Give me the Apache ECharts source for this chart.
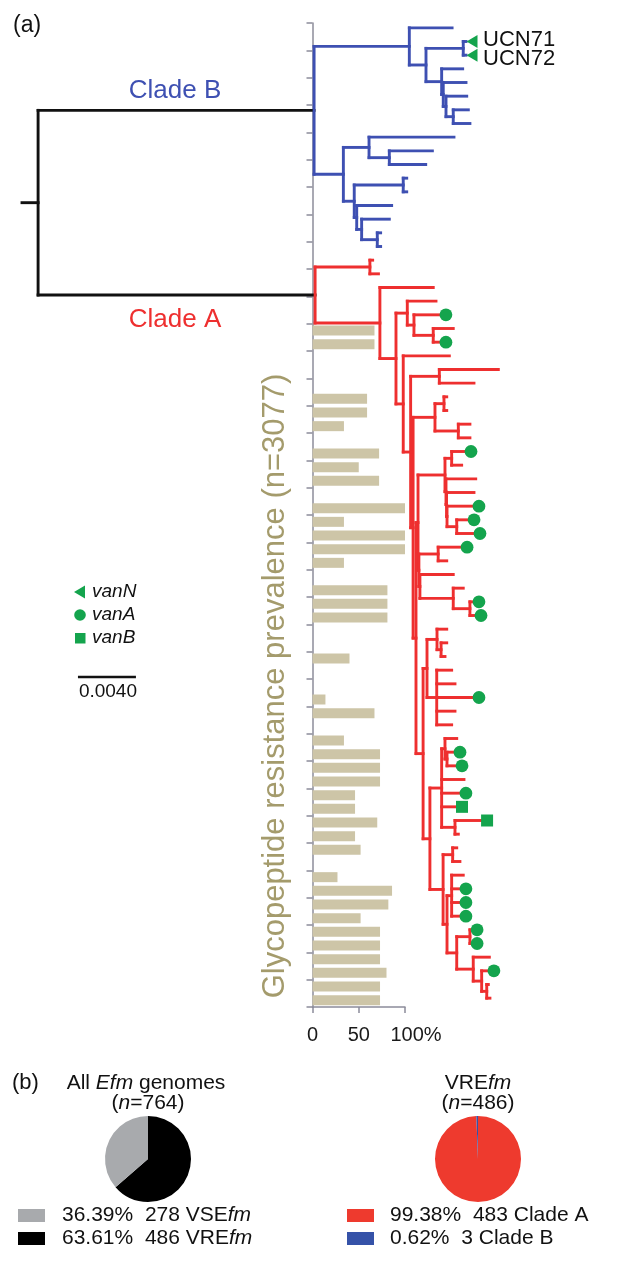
<!DOCTYPE html>
<html><head><meta charset="utf-8"><title>Efm phylogeny</title>
<script src="https://cdn.jsdelivr.net/npm/echarts@6/dist/echarts.min.js"></script>
<style>html,body{margin:0;padding:0;background:#fff;}#chart{width:619px;height:1276px;}</style>
</head><body><div id="chart"></div>
<script>
const FONT = 'Liberation Sans, Arial, Helvetica, sans-serif';

// ---------------- DATA ----------------
// Tree depths in units of 0.001 substitutions/site from the root.
// Leaf: [depth, marker?, label?]  Internal: [depth, [children...]]
// Markers: 'N' = vanN, 'A' = vanA, 'B' = vanB
const rootDepth = 1.11;
const cladeBTree = [20.15, [
  [26.72, [
    [29.67],
    [27.87, [
      [30.44, [[30.63, 'N', 'UCN71'], [30.63, 'N', 'UCN72']]],
      [28.95, [
        [30.40],
        [29.06, [
          [30.63],
          [29.25, [
            [30.68],
            [29.75, [[30.79], [30.90]]]
          ]]
        ]]
      ]]
    ]]
  ]],
  [22.17, [
    [23.94, [
      [29.80],
      [25.34, [[28.31], [27.85]]]
    ]],
    [22.92, [
      [26.30, [[26.54], [26.54]]],
      [23.09, [
        [25.50],
        [23.43, [
          [25.34],
          [24.51, [[24.74], [24.74]]]
        ]]
      ]]
    ]]
  ]]
]];

const cladeATree = [20.22, [
  [24.00, [[24.19], [24.59]]],
  [24.69, [
    [28.37],
    [25.80, [
      [26.58, [
        [28.56],
        [27.04, [
          [28.83, 'A'],
          [28.37, [[29.75], [28.83, 'A']]]
        ]]
      ]],
      [26.30, [
        [29.48],
        [26.81, [
          [28.79, [[32.86], [31.18]]],
          [26.98, [
            [28.49, [
              [29.11, [[29.30], [29.30]]],
              [30.10, [[30.90], [30.90]]]
            ]],
            [27.18, [
              [27.32, [
                [29.18, [
                  [29.64, [[30.56, 'A'], [30.33]]],
                  [29.25, [
                    [31.30],
                    [29.29, [
                      [31.18],
                      [29.32, [
                        [31.11, 'A'],
                        [29.99, [[30.77, 'A'], [31.18, 'A']]]
                      ]]
                    ]]
                  ]]
                ]],
                [27.38, [
                  [28.71, [[30.29, 'A'], [29.30]]],
                  [27.45, [
                    [29.75],
                    [29.75, [
                      [30.44],
                      [30.90, [[31.11, 'A'], [31.25, 'A']]]
                    ]]
                  ]]
                ]]
              ]],
              [27.67, [
                [27.94, [
                  [28.63, [[29.30], [28.91, [[29.30], [29.18]]]]],
                  [28.61, [[29.64], [29.87], [31.11, 'A'], [29.87], [29.64]]]
                ]],
                [28.14, [
                  [28.95, [
                    [29.18, [[29.99], [29.32, [[29.80, 'A'], [29.94, 'A']]]]],
                    [30.49],
                    [30.21, 'A'],
                    [29.94, 'B'],
                    [29.87, [[31.67, 'B'], [30.10]]]
                  ]],
                  [29.05, [
                    [29.71, [[29.99], [30.21]]],
                    [29.32, [
                      [29.64, [[30.44], [30.21, 'A'], [30.21, 'A'], [30.21, 'A']]],
                      [29.99, [
                        [30.90, [[30.98, 'A'], [30.98, 'A']]],
                        [31.13, [
                          [32.24],
                          [31.71, [
                            [32.14, 'A'],
                            [32.06, [[32.17], [32.28]]]
                          ]]
                        ]]
                      ]]
                    ]]
                  ]]
                ]]
              ]]
            ]]
          ]]
        ]]
      ]]
    ]]
  ]]
]];

const scaleBarLength = 4;      // 0.0040 substitutions/site
const scaleBarAt = [3.86, 47.5];

// Glycopeptide resistance prevalence (%) per tip row (null = no bar)
const prevalence = [
  null, null, null, null, null, null, null, null, null, null, null,
  null, null, null, null, null, null, null, null, null, null, null,
  67, 67, null, null, null, 59, 59, 34, null, 72, 50, 72, null,
  100, 34, 100, 100, 34, null, 81, 81, 81, null, null, 40, null, null,
  14, 67, null, 34, 73, 73, 73, 46, 46, 70, 46, 52, null,
  27, 86, 82, 52, 73, 73, 73, 80, 73, 73
];
const prevalenceTicks = [0, 50, 100];

const allGenomes = [
  { name: 'VREfm', value: 486, pct: '63.61%' },
  { name: 'VSEfm', value: 278, pct: '36.39%' }
];
const vreGenomes = [
  { name: 'Clade A', value: 483, pct: '99.38%' },
  { name: 'Clade B', value: 3, pct: '0.62%' }
];

// ---------------- TREE LAYOUT ----------------
const segs = { B: [], A: [], K: [] };
const marks = [];
let leafIdx = 0;
function lay(node, parentDepth, key) {
  const d = node[0];
  let y;
  if (Array.isArray(node[1])) {
    const ys = node[1].map(ch => lay(ch, d, key));
    y = (ys[0] + ys[ys.length - 1]) / 2;
    segs[key].push([d, ys[0], d, ys[ys.length - 1]]);
  } else {
    y = leafIdx++;
    if (node[1]) marks.push([d, y, node[1], node[2] || '']);
  }
  if (parentDepth != null) segs[key].push([parentDepth, y, d, y]);
  return y;
}
const yB = lay(cladeBTree, null, 'B');
const yA = lay(cladeATree, null, 'A');
const yRoot = (yB + yA) / 2;
segs.K.push([rootDepth, yB, cladeBTree[0], yB]);
segs.K.push([rootDepth, yA, cladeATree[0], yA]);
segs.K.push([rootDepth, yB, rootDepth, yA]);
segs.K.push([0, yRoot, rootDepth, yRoot]);

const rowIds = prevalence.map((_, i) => 'tip' + i);

const colors = { B: '#3e50b2', A: '#ee2f2f', K: '#111111' };
const green = '#14a44d';

function segSeries(key) {
  return {
    type: 'custom', xAxisIndex: 0, yAxisIndex: 0, silent: true, z: 5,
    data: segs[key],
    renderItem: (params, api) => {
      const p1 = api.coord([api.value(0), api.value(1)]);
      const p2 = api.coord([api.value(2), api.value(3)]);
      return { type: 'line', shape: { x1: p1[0], y1: p1[1], x2: p2[0], y2: p2[1] },
        style: { stroke: colors[key], lineWidth: 2.9, lineCap: 'square' } };
    }
  };
}

const option = {
  animation: false,
  backgroundColor: '#ffffff',
  grid: [
    { left: 22, top: 21, width: 579.83, height: 984 },
    { left: 312.5, top: 23, width: 92.5, height: 984 }
  ],
  xAxis: [
    { type: 'value', gridIndex: 0, min: 0, max: 40, show: false },
    { type: 'value', gridIndex: 1, min: prevalenceTicks[0], max: prevalenceTicks[2], interval: prevalenceTicks[1],
      axisLine: { show: true, lineStyle: { color: '#8c8c9a', width: 1.5 } },
      axisTick: { show: true, length: 6, lineStyle: { color: '#8c8c9a', width: 1.5 } },
      splitLine: { show: false },
      axisLabel: { fontSize: 20, color: '#1a1a1a', fontFamily: FONT, margin: 18,
        formatter: v => (v === 100 ? '{p|100%}' : String(v)),
        rich: { p: { fontSize: 20, color: '#1a1a1a', fontFamily: FONT, padding: [0, 0, 0, 22] } } } }
  ],
  yAxis: [
    { type: 'value', gridIndex: 0, min: -0.5, max: 71.5, inverse: true, show: false },
    { type: 'category', gridIndex: 1, data: rowIds, inverse: true,
      axisLine: { show: true, lineStyle: { color: '#8c8c9a', width: 1.5 } },
      axisTick: { show: true, length: 6, alignWithLabel: false, lineStyle: { color: '#8c8c9a', width: 1.5 } },
      axisLabel: { show: false }, splitLine: { show: false } }
  ],
  series: [
    { type: 'bar', xAxisIndex: 1, yAxisIndex: 1, data: prevalence, barWidth: 10,
      itemStyle: { color: '#cdc5a7' }, silent: true, z: 2 },
    segSeries('K'), segSeries('B'), segSeries('A'),
    { type: 'custom', xAxisIndex: 0, yAxisIndex: 0, silent: true, z: 6,
      data: marks.map(m => [m[0], m[1]]),
      renderItem: (params, api) => {
        const m = marks[params.dataIndex];
        const p = api.coord([api.value(0), api.value(1)]);
        const ch = [];
        if (m[2] === 'A') ch.push({ type: 'circle', shape: { cx: p[0] + 6, cy: p[1], r: 6.4 }, style: { fill: green } });
        else if (m[2] === 'B') ch.push({ type: 'rect', shape: { x: p[0], y: p[1] - 6, width: 12, height: 12 }, style: { fill: green } });
        else if (m[2] === 'N') ch.push({ type: 'polygon', shape: { points: [[p[0] + 0.5, p[1]], [p[0] + 11.5, p[1] - 6.5], [p[0] + 11.5, p[1] + 6.5]] }, style: { fill: green } });
        if (m[3]) {
          const first = !marks.slice(0, params.dataIndex).some(o => o[3]);
          ch.push({ type: 'text', x: p[0] + 17, y: p[1] + (first ? -1.5 : 3.5),
            style: { text: m[3], font: '22px ' + FONT, fill: '#111', align: 'left', verticalAlign: 'middle' } });
        }
        return { type: 'group', children: ch };
      }
    },
    { type: 'custom', xAxisIndex: 0, yAxisIndex: 0, silent: true, z: 6,
      data: [[scaleBarAt[0], scaleBarAt[1], scaleBarLength]],
      renderItem: (params, api) => {
        const a = api.coord([api.value(0), api.value(1)]);
        const b = api.coord([api.value(0) + api.value(2), api.value(1)]);
        return { type: 'group', children: [
          { type: 'line', shape: { x1: a[0], y1: a[1], x2: b[0], y2: b[1] }, style: { stroke: '#111', lineWidth: 2.5 } },
          { type: 'text', x: (a[0] + b[0]) / 2 + 1, y: a[1] + 15, style: { text: (api.value(2) / 1000).toFixed(4), font: '19px ' + FONT, fill: '#111', align: 'center', verticalAlign: 'middle' } }
        ] };
      }
    },
    { type: 'pie', center: [148, 1159], radius: 43, startAngle: 90, clockwise: true, silent: true,
      label: { show: false }, labelLine: { show: false },
      itemStyle: { borderWidth: 0 },
      data: allGenomes.map((d, i) => ({ name: d.name, value: d.value, itemStyle: { color: i === 0 ? '#000000' : '#a8aaad' } })) },
    { type: 'pie', center: [478, 1159], radius: 43, startAngle: 90, clockwise: true, silent: true,
      label: { show: false }, labelLine: { show: false },
      itemStyle: { borderWidth: 0 },
      data: vreGenomes.map((d, i) => ({ name: d.name, value: d.value, itemStyle: { color: i === 0 ? '#ee3a2e' : '#3552a8' } })) }
  ],
  graphic: []
};

function txt(x, y, text, size, color, align, extra) {
  return Object.assign({ type: 'text', x, y, silent: true, style: Object.assign({
    text, fontSize: size, fontFamily: FONT, fill: color, align: align || 'left', verticalAlign: 'middle',
    rich: { i: { fontSize: size, fontFamily: FONT, fontStyle: 'italic', fill: color } }
  }, extra || {}) });
}

const g = option.graphic;
g.push(txt(13, 26, '(a)', 23, '#111'));
g.push(txt(175, 91, 'Clade B', 26, colors.B, 'center'));
g.push(txt(175, 320, 'Clade A', 26, colors.A, 'center'));
g.push(Object.assign(txt(275, 686, 'Glycopeptide resistance prevalence (n=3077)', 31, '#a49b6c', 'center'), { rotation: Math.PI / 2 }));
// gene legend
g.push({ type: 'polygon', silent: true, shape: { points: [[74, 592], [85, 585.5], [85, 598.5]] }, style: { fill: green } });
g.push({ type: 'circle', silent: true, shape: { cx: 80, cy: 615, r: 5.8 }, style: { fill: green } });
g.push({ type: 'rect', silent: true, shape: { x: 75, y: 633, width: 10.5, height: 10.5 }, style: { fill: green } });
g.push(txt(92, 592, '{i|vanN}', 19, '#111'));
g.push(txt(92, 615, '{i|vanA}', 19, '#111'));
g.push(txt(92, 638, '{i|vanB}', 19, '#111'));
// panel b
g.push(txt(12, 1083, '(b)', 22, '#111'));
g.push(txt(146, 1083, 'All {i|Efm} genomes', 21, '#111', 'center'));
g.push(txt(148, 1103, '({i|n}=' + (allGenomes[0].value + allGenomes[1].value) + ')', 21, '#111', 'center'));
g.push(txt(478, 1083, 'VRE{i|fm}', 21, '#111', 'center'));
g.push(txt(478, 1103, '({i|n}=' + (vreGenomes[0].value + vreGenomes[1].value) + ')', 21, '#111', 'center'));
g.push({ type: 'rect', silent: true, shape: { x: 18, y: 1209, width: 27, height: 13 }, style: { fill: '#a8aaad' } });
g.push({ type: 'rect', silent: true, shape: { x: 18, y: 1232, width: 27, height: 13 }, style: { fill: '#000000' } });
g.push(txt(62, 1215, allGenomes[1].pct + '  ' + allGenomes[1].value + ' VSE{i|fm}', 21, '#111'));
g.push(txt(62, 1238, allGenomes[0].pct + '  ' + allGenomes[0].value + ' VRE{i|fm}', 21, '#111'));
g.push({ type: 'rect', silent: true, shape: { x: 347, y: 1209, width: 27, height: 13 }, style: { fill: '#ee3a2e' } });
g.push({ type: 'rect', silent: true, shape: { x: 347, y: 1232, width: 27, height: 13 }, style: { fill: '#3552a8' } });
g.push(txt(390, 1215, vreGenomes[0].pct + '  ' + vreGenomes[0].value + ' ' + vreGenomes[0].name, 21, '#111'));
g.push(txt(390, 1238, vreGenomes[1].pct + '  ' + vreGenomes[1].value + ' ' + vreGenomes[1].name, 21, '#111'));

const chart = echarts.init(document.getElementById('chart'), null, { renderer: 'canvas' });
chart.setOption(option);
</script>
</body></html>
